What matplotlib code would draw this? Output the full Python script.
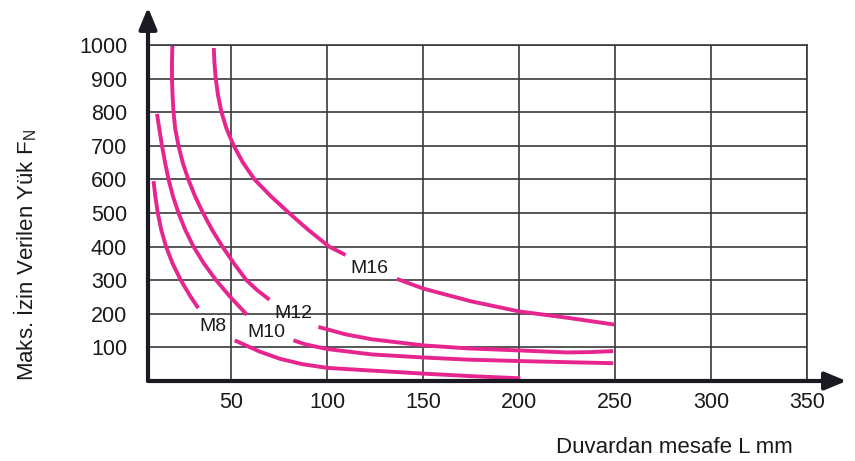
import numpy as np
import matplotlib
matplotlib.use('Agg')
import matplotlib.pyplot as plt

plt.rcParams['font.family'] = ['Liberation Sans', 'DejaVu Sans']
plt.rcParams['mathtext.fontset'] = 'custom'
plt.rcParams['mathtext.rm'] = 'Liberation Sans'

# curves (L in mm, F in N); each bolt size is split around its label
m8_x1 = [9.4, 10.3, 11.6, 13.4, 15.9, 19.3, 23.6, 28.8, 32.7]
m8_y1 = [595, 550, 500, 450, 400, 350, 300, 250, 217]
m8_x2 = [51.7, 64.5, 75.3, 87, 100, 123, 150, 173, 200.6]
m8_y2 = [121, 88, 66, 50, 39, 31, 22, 15, 8]

m10_x1 = [11.2, 12.4, 13.8, 15.4, 17.2, 19.5, 22.4, 25.9, 30.2, 35.6, 42.0, 49.4, 58.1]
m10_y1 = [795, 750, 700, 650, 600, 550, 500, 450, 400, 350, 300, 250, 197]
m10_x2 = [82.3, 88.6, 100, 123.3, 150, 173.3, 200, 225, 249]
m10_y2 = [121, 109, 95, 79, 70, 63.5, 59.4, 56, 53]

m12_x1 = [19.2, 19.0, 19.0, 19.3, 19.8, 20.7, 22.4, 24.6, 27.5, 31, 35.2, 39.9, 45.3, 51.3, 57.8, 63.5, 69.8]
m12_y1 = [997, 950, 900, 850, 800, 750, 700, 650, 600, 550, 500, 450, 400, 350, 300, 270, 242]
m12_x2 = [95.3, 109.4, 123.3, 150, 173.3, 200, 225, 237, 249]
m12_y2 = [161, 139, 124, 106, 97, 91, 85, 86, 89]

m16_x1 = [40.8, 41.1, 41.8, 43.0, 44.8, 47.5, 51.2, 56.0, 62.0, 70.5, 80.0, 90.0, 100.9, 109.5]
m16_y1 = [991, 950, 900, 850, 800, 750, 700, 650, 600, 550, 500, 450, 400, 375]
m16_x2 = [136.2, 150, 175, 200, 226.6, 249.5]
m16_y2 = [304, 275, 237, 207, 187, 168]

labels = ['M8', 'M10', 'M12', 'M16']
label_x = [40.2, 68.1, 82.4, 121.9]
label_y = [162, 145, 200, 335]

x_ticks = [50, 100, 150, 200, 250, 300, 350]
y_ticks = [100, 200, 300, 400, 500, 600, 700, 800, 900, 1000]

pink = '#e6258f'
grid_c = '#3a3a3a'
axis_c = '#1a1a22'

fig = plt.figure(figsize=(8.55, 4.61), dpi=100)
ax = fig.add_axes([148 / 855, 1 - 381 / 461, 659 / 855, 336 / 461])
ax.set_xlim(6.5, 350)
ax.set_ylim(0, 1000)

ax.set_xticks(x_ticks)
ax.set_yticks(y_ticks)
ax.grid(True, color=grid_c, lw=1.2)
ax.set_axisbelow(True)
ax.tick_params(length=0, labelsize=15.5, labelcolor='#1a1a1a')
ax.tick_params(axis='y', pad=15)
ax.tick_params(axis='x', pad=8)

for side in ['top', 'right']:
    ax.spines[side].set_color(grid_c)
    ax.spines[side].set_linewidth(1.2)
for side in ['left', 'bottom']:
    ax.spines[side].set_visible(False)

for xs, ys in [(m8_x1, m8_y1), (m8_x2, m8_y2), (m10_x1, m10_y1), (m10_x2, m10_y2),
               (m12_x1, m12_y1), (m12_x2, m12_y2), (m16_x1, m16_y1), (m16_x2, m16_y2)]:
    ax.plot(xs, ys, color=pink, lw=2.8, solid_capstyle='butt', solid_joinstyle='round')

for lab, lx, ly in zip(labels, label_x, label_y):
    ax.text(lx, ly, lab, ha='center', va='center', fontsize=14, color='#1a1a1a')

# axes with arrow heads
arrow = dict(arrowstyle='-|>,head_length=0.65,head_width=0.27', lw=3,
             color=axis_c, shrinkA=0, shrinkB=0, mutation_scale=20)
ax.annotate('', xy=(0, 1.112), xytext=(0, 0), xycoords='axes fraction',
            textcoords='axes fraction', arrowprops=arrow, annotation_clip=False)
ax.annotate('', xy=(1.06, 0), xytext=(0, 0), xycoords='axes fraction',
            textcoords='axes fraction', arrowprops=arrow, annotation_clip=False)

fig.text(25 / 855, 1 - 255 / 461, 'Maks. İzin Verilen Yük F$_\\mathregular{N}$',
         rotation=90, ha='center', va='center', fontsize=16, color='#1a1a1a')
fig.text(674 / 855, 1 - 447 / 461, 'Duvardan mesafe L mm', ha='center', va='center',
         fontsize=16, color='#1a1a1a')

fig.savefig('out.png', dpi=100)
